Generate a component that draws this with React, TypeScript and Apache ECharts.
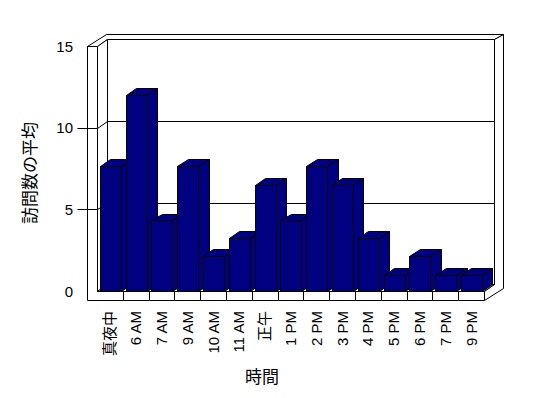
import React, { useEffect, useRef } from 'react';
import * as echarts from 'echarts';

const categories = ['真夜中', '6 AM', '7 AM', '9 AM', '10 AM', '11 AM', '正午', '1 PM', '2 PM', '3 PM', '4 PM', '5 PM', '6 PM', '7 PM', '9 PM'];
const avgVisits = [7.67, 12, 4.33, 7.67, 2.17, 3.25, 6.5, 4.33, 7.67, 6.5, 3.25, 1, 2.17, 1, 1];
const yTicks = [0, 5, 10, 15];
const yMax = 15;
const yAxisTitle = '訪問数の平均';
const xAxisTitle = '時間';

// 3D styling constants (pixels)
const DX = 10.4;
const DY = -6.7;
const WALL = 9.7;
const FLOOR = 8.7;
const BACK_DX = 8.3;
const BACK_DY = -5;
const TICK_OUT = 10;
const NAVY = '#000080';

const snap = (v: number) => Math.round(v) + 0.5;
const pts = (arr: number[][]) => arr.map(([x, y]) => [snap(x), snap(y)]);

function poly(points: number[][], fill: string) {
  return {
    type: 'polygon',
    shape: { points: pts(points) },
    style: { fill, stroke: '#000', lineWidth: 1 },
  };
}
function pline(points: number[][]) {
  return {
    type: 'polyline',
    shape: { points: pts(points) },
    style: { fill: 'none', stroke: '#000', lineWidth: 1 },
  };
}

const frameRender = (_params: any, api: any) => {
  const n = categories.length;
  const bw = api.size([1, 0])[0];
  const x0 = api.coord([0, 0])[0] - bw / 2;
  const x1 = api.coord([n - 1, 0])[0] + bw / 2;
  const yv = (v: number) => api.coord([0, v])[1];
  const y0 = yv(0);
  const yTop = yv(yMax);
  const xw = x0 - WALL;
  const yf = y0 + FLOOR;
  const bx0 = x0 + DX;
  const bx1 = x1 + DX;
  const by0 = y0 + DY;
  const byTop = yTop + DY;
  const ox = DX + BACK_DX;
  const oy = DY + BACK_DY;
  const children: any[] = [];
  children.push(poly([[xw, yTop], [x0, yTop], [bx0, byTop], [bx1, byTop], [x1 + ox, yTop + oy], [xw + ox, yTop + oy]], '#fff'));
  children.push(poly([[xw, yTop], [x0, yTop], [x0, y0], [x1, y0], [x1, yf], [xw, yf]], '#fff'));
  children.push(poly([[x0, yTop], [bx0, byTop], [bx0, by0], [x0, y0]], '#fff'));
  children.push(poly([[bx0, byTop], [bx1, byTop], [bx1, by0], [bx0, by0]], '#fff'));
  children.push(poly([[x0, y0], [x1, y0], [bx1, by0], [bx0, by0]], '#fff'));
  children.push(poly([[x1, y0], [bx1, by0], [bx1, byTop], [x1 + ox, yTop + oy], [x1 + ox, yf + oy], [x1, yf]], '#fff'));
  yTicks.forEach((v) => {
    const y = yv(v);
    if (v > 0 && v < yMax) {
      children.push(pline([[xw - TICK_OUT, y], [x0, y], [bx0, y + DY], [bx1, y + DY]]));
    }
  });
  for (let i = 1; i < n; i++) {
    const x = x0 + i * bw;
    children.push(pline([[x, y0], [x, yf]]));
  }
  return { type: 'group', children };
};

const barRender = (_params: any, api: any) => {
  const i = api.value(0);
  const v = api.value(1);
  const bw = api.size([1, 0])[0];
  const base = api.coord([i, 0]);
  const top = api.coord([i, v]);
  const xl = base[0] - 0.39 * bw;
  const xr = base[0] + 0.425 * bw;
  const yb = base[1];
  const yt = top[1];
  return {
    type: 'group',
    children: [
      poly([[xl, yt], [xr, yt], [xr, yb], [xl, yb]], NAVY),
      poly([[xl, yt], [xl + DX, yt + DY], [xr + DX, yt + DY], [xr, yt]], NAVY),
      poly([[xr, yt], [xr + DX, yt + DY], [xr + DX, yb + DY], [xr, yb]], NAVY),
    ],
  };
};

export default function App() {
  const ref = useRef<HTMLDivElement>(null);
  useEffect(() => {
    if (!ref.current) return;
    const chart = echarts.init(ref.current, null, { renderer: 'svg' });
    chart.setOption({
      animation: false,
      backgroundColor: '#fff',
      grid: { left: 97, right: 64, top: 46, bottom: 107 },
      xAxis: {
        type: 'category',
        data: categories,
        axisLine: { show: false },
        axisTick: { show: false },
        splitLine: { show: false },
        axisLabel: {
          interval: 0,
          rotate: 90,
          margin: 20,
          color: '#000',
          fontSize: 15,
          fontFamily: '"Liberation Sans", "Noto Sans CJK JP", sans-serif',
        },
      },
      yAxis: {
        type: 'value',
        min: 0,
        max: yMax,
        interval: 5,
        axisLine: { show: false },
        axisTick: { show: false },
        splitLine: { show: false },
        axisLabel: {
          margin: 24,
          color: '#000',
          fontSize: 15,
          fontFamily: '"Liberation Sans", sans-serif',
        },
      },
      series: [
        {
          type: 'custom',
          name: 'frame',
          coordinateSystem: 'cartesian2d',
          renderItem: frameRender,
          data: [[0, 0]],
          clip: false,
          silent: true,
          z: 1,
        },
        {
          type: 'custom',
          name: '訪問数の平均',
          coordinateSystem: 'cartesian2d',
          renderItem: barRender,
          data: avgVisits.map((v, i) => [i, v]),
          clip: false,
          z: 2,
        },
      ],
      graphic: [
        {
          type: 'text',
          x: 28,
          y: 173,
          rotation: Math.PI / 2,
          style: {
            text: yAxisTitle,
            font: '17px "Noto Sans CJK JP"',
            fill: '#000',
            align: 'center',
            verticalAlign: 'middle',
            textAlign: 'center',
            textVerticalAlign: 'middle',
          },
        },
        {
          type: 'text',
          x: 262,
          y: 375,
          style: {
            text: xAxisTitle,
            font: '17px "Noto Sans CJK JP"',
            fill: '#000',
            align: 'center',
            verticalAlign: 'middle',
            textAlign: 'center',
            textVerticalAlign: 'middle',
          },
        },
      ],
    });
    return () => chart.dispose();
  }, []);
  return <div ref={ref} style={{ position: 'fixed', left: 0, top: 0, width: 548, height: 398 }} />;
}
